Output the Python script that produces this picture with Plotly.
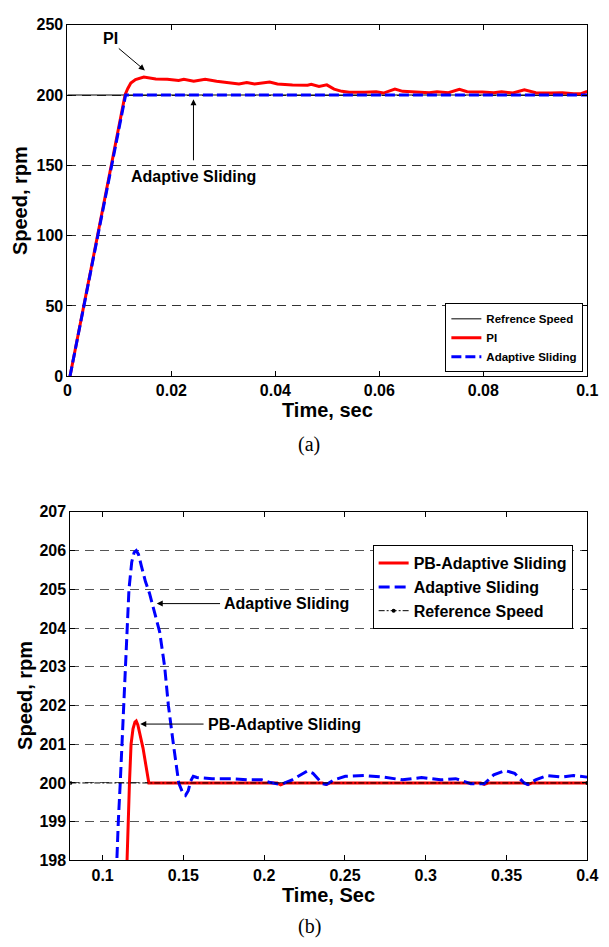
import plotly.graph_objects as go

W, H = 609, 947

# ---------------- data (a) ----------------
t_ref_a = [0.0, 0.1]
ref_a = [200, 200]

t_pi = [0.0005, 0.0111, 0.0116, 0.0122, 0.0131, 0.0147, 0.0170, 0.0192, 0.0214, 0.0224,
        0.0243, 0.0265, 0.0287, 0.0316, 0.0330, 0.0345, 0.0360, 0.0389, 0.0404, 0.0433,
        0.0462, 0.0469, 0.0484, 0.0499, 0.0513, 0.0528, 0.0542, 0.0572, 0.0594, 0.0608,
        0.0630, 0.0645, 0.0667, 0.0696, 0.0711, 0.0733, 0.0754, 0.0769, 0.0798, 0.0820,
        0.0835, 0.0857, 0.0879, 0.0901, 0.0930, 0.0952, 0.0974, 0.0988, 0.1000]
pi = [0, 200.2, 204.5, 208.5, 211.0, 212.8, 211.4, 211.2, 210.3, 211.2,
      209.8, 211.2, 209.8, 208.4, 207.9, 208.9, 207.9, 209.3, 207.9, 207.2,
      207.0, 207.7, 206.1, 207.2, 204.2, 202.6, 201.9, 201.9, 202.3, 201.4,
      204.2, 202.6, 202.1, 201.6, 202.3, 201.6, 204.0, 202.3, 202.1, 201.6,
      202.3, 201.4, 203.7, 201.6, 201.4, 201.6, 200.9, 200.9, 202.6]

t_as_a = [0.0005, 0.0112, 0.1]
as_a = [0, 200, 200]

# ---------------- data (b) ----------------
t_ref_b = [0.08, 0.4]
ref_b = [200, 200]

t_as_b = [0.1070, 0.1085, 0.1097, 0.1109, 0.1119, 0.1129, 0.1139, 0.1150, 0.1163, 0.1180,
          0.1195, 0.1208, 0.1222, 0.1240, 0.1265, 0.1290, 0.1320, 0.1353, 0.1384, 0.1407,
          0.1438, 0.1471, 0.1495, 0.1513, 0.1530, 0.1545, 0.1561, 0.1584, 0.1678, 0.1796,
          0.1914, 0.1985, 0.2031, 0.2102, 0.2173, 0.2267, 0.2302, 0.2361, 0.2385, 0.2432,
          0.2502, 0.2620, 0.2738, 0.2856, 0.2974, 0.3091, 0.3186, 0.3279, 0.3362, 0.3421,
          0.3491, 0.3550, 0.3609, 0.3633, 0.3680, 0.3751, 0.3845, 0.3915, 0.4000]
as_b = [196.0, 198.0, 199.0, 200.0, 201.0, 202.0, 203.0, 204.0, 205.0, 205.7,
        205.95, 206.0, 205.9, 205.6, 205.2, 204.9, 204.4, 203.9, 203.0, 202.0,
        201.0, 200.0, 199.75, 199.68, 199.8, 200.05, 200.17, 200.14, 200.11, 200.11,
        200.08, 200.08, 200.02, 199.96, 200.08, 200.31, 200.25, 199.98, 199.96, 200.08,
        200.17, 200.19, 200.15, 200.08, 200.14, 200.08, 200.11, 199.98, 199.98, 200.21,
        200.32, 200.25, 200.0, 199.96, 200.08, 200.19, 200.15, 200.19, 200.15]

t_pb = [0.1140, 0.1150, 0.1158, 0.1166, 0.1176, 0.1188, 0.1200, 0.1208, 0.1218, 0.1232,
        0.1250, 0.1268, 0.1286, 0.2080, 0.2102, 0.2130, 0.2360, 0.2385, 0.2410, 0.3340,
        0.3362, 0.3390, 0.3610, 0.3633, 0.3660, 0.4000]
pb = [196.5, 198.0, 199.0, 200.0, 201.0, 201.4, 201.57, 201.6, 201.5, 201.25,
      200.9, 200.45, 200.0, 200.0, 199.95, 200.0, 200.0, 199.96, 200.0, 200.0,
      199.96, 200.0, 200.0, 199.96, 200.0, 200.0]

xticks_a = [0, 0.02, 0.04, 0.06, 0.08, 0.1]
xticklabels_a = ["0", "0.02", "0.04", "0.06", "0.08", "0.1"]
yticks_a = [0, 50, 100, 150, 200, 250]
xticks_b = [0.1, 0.15, 0.2, 0.25, 0.3, 0.35, 0.4]
xticklabels_b = ["0.1", "0.15", "0.2", "0.25", "0.3", "0.35", "0.4"]
yticks_b = [198, 199, 200, 201, 202, 203, 204, 205, 206, 207]

# ---------------- helpers ----------------
def px(x):
    return x / W

def py(y):
    return (H - y) / H

SANS = "Arial, Liberation Sans, sans-serif"
SERIF = "Times New Roman, Liberation Serif, serif"
RED = "#ff0000"
BLUE = "#0000ff"

fig = go.Figure()

# (a)
fig.add_trace(go.Scatter(x=t_ref_a, y=ref_a, mode="lines", name="Refrence Speed",
                         line=dict(color="black", width=1), xaxis="x", yaxis="y",
                         legend="legend"))
fig.add_trace(go.Scatter(x=t_pi, y=pi, mode="lines", name="PI",
                         line=dict(color=RED, width=3), xaxis="x", yaxis="y",
                         legend="legend"))
fig.add_trace(go.Scatter(x=t_as_a, y=as_a, mode="lines", name="Adaptive Sliding",
                         line=dict(color=BLUE, width=3, dash="10px,4px"), xaxis="x", yaxis="y",
                         legend="legend"))

# (b)
fig.add_trace(go.Scatter(x=t_pb, y=pb, mode="lines", name="PB-Adaptive Sliding",
                         line=dict(color=RED, width=3), xaxis="x2", yaxis="y2",
                         legend="legend2"))
fig.add_trace(go.Scatter(x=t_as_b, y=as_b, mode="lines", name="Adaptive Sliding",
                         line=dict(color=BLUE, width=3, dash="11px,5px"), xaxis="x2", yaxis="y2",
                         legend="legend2"))
fig.add_trace(go.Scatter(x=t_ref_b, y=ref_b, mode="lines+markers", name="Reference Speed",
                         line=dict(color="black", width=1, dash="6px,2px,2px,2px"),
                         marker=dict(color="black", size=4), xaxis="x2", yaxis="y2",
                         legend="legend2"))

tickfont = dict(family=SANS, size=16, color="black", weight="bold")
common_ax = dict(showline=True, linecolor="black", linewidth=1, mirror="ticks",
                 ticks="inside", ticklen=5, tickcolor="black", tickwidth=1,
                 tickfont=tickfont, zeroline=False, ticklabeloverflow="allow")

fig.update_layout(
    width=W, height=H,
    margin=dict(l=0, r=0, t=0, b=0),
    paper_bgcolor="white", plot_bgcolor="white",
    showlegend=True,
    xaxis=dict(domain=[px(65), px(598)], anchor="y", range=[0, 0.1],
               tickmode="array", tickvals=xticks_a, ticktext=xticklabels_a,
               showgrid=False, **common_ax),
    yaxis=dict(domain=[py(375), py(17)], anchor="x", range=[0, 250],
               tickvals=yticks_a, showgrid=True, gridcolor="#333333", gridwidth=1,
               griddash="9px,6px", **common_ax),
    xaxis2=dict(domain=[px(68), px(598)], anchor="y2", range=[0.08, 0.4],
                tickmode="array", tickvals=xticks_b, ticktext=xticklabels_b,
                showgrid=False, **common_ax),
    yaxis2=dict(domain=[py(868), py(513)], anchor="x2", range=[198, 207],
                tickvals=yticks_b, showgrid=True, gridcolor="#555555", gridwidth=1,
                griddash="9px,6px", **common_ax),
    legend=dict(x=px(594), y=py(371), xanchor="right", yanchor="bottom",
                bgcolor="white", bordercolor="black", borderwidth=1,
                font=dict(family=SANS, size=11.5, color="black", weight="bold"),
                tracegroupgap=0, itemwidth=30),
    legend2=dict(x=px(583), y=py(547), xanchor="right", yanchor="top",
                 bgcolor="white", bordercolor="black", borderwidth=1,
                 font=dict(family=SANS, size=16, color="black", weight="bold"),
                 tracegroupgap=0, itemwidth=30),
)

annots = []
txtfont = dict(family=SANS, size=16, color="black", weight="bold")

# axis titles
annots.append(dict(text="Time, sec", x=px(331.5), y=py(409), xref="paper", yref="paper",
                   showarrow=False, xanchor="center", yanchor="middle",
                   font=dict(family=SANS, size=20, color="black", weight="bold")))
annots.append(dict(text="Speed, rpm", x=px(17), y=py(196), xref="paper", yref="paper",
                   showarrow=False, xanchor="center", yanchor="middle", textangle=-90,
                   font=dict(family=SANS, size=20, color="black", weight="bold")))
annots.append(dict(text="Time, Sec", x=px(333), y=py(903), xref="paper", yref="paper",
                   showarrow=False, xanchor="center", yanchor="middle",
                   font=dict(family=SANS, size=20, color="black", weight="bold")))
annots.append(dict(text="Speed, rpm", x=px(22), y=py(700), xref="paper", yref="paper",
                   showarrow=False, xanchor="center", yanchor="middle", textangle=-90,
                   font=dict(family=SANS, size=20, color="black", weight="bold")))
annots.append(dict(text="(a)", x=px(313), y=py(444), xref="paper", yref="paper",
                   showarrow=False, xanchor="center", yanchor="middle",
                   font=dict(family=SERIF, size=20, color="black")))
annots.append(dict(text="(b)", x=px(313), y=py(935), xref="paper", yref="paper",
                   showarrow=False, xanchor="center", yanchor="middle",
                   font=dict(family=SERIF, size=20, color="black")))

# (a) annotations
annots.append(dict(text="PI", x=0.0082, y=240, xref="x", yref="y", showarrow=False,
                   font=txtfont))
annots.append(dict(text="", x=0.0149, y=217.5, ax=0.0096, ay=234, xref="x", yref="y",
                   axref="x", ayref="y", showarrow=True, arrowhead=2, arrowsize=1.2,
                   arrowwidth=1, arrowcolor="black"))
annots.append(dict(text="Adaptive Sliding", x=0.02425, y=142, xref="x", yref="y",
                   showarrow=False, font=txtfont))
annots.append(dict(text="", x=0.02425, y=197, ax=0.02425, ay=152.5, xref="x", yref="y",
                   axref="x", ayref="y", showarrow=True, arrowhead=2, arrowsize=1.2,
                   arrowwidth=1, arrowcolor="black"))

# (b) annotations
annots.append(dict(text="Adaptive Sliding", x=0.2137, y=204.63, xref="x2", yref="y2",
                   showarrow=False, font=txtfont))
annots.append(dict(text="", x=0.1335, y=204.63, ax=0.1736, ay=204.63, xref="x2", yref="y2",
                   axref="x2", ayref="y2", showarrow=True, arrowhead=2, arrowsize=1.2,
                   arrowwidth=1, arrowcolor="black"))
annots.append(dict(text="PB-Adaptive Sliding", x=0.2125, y=201.5, xref="x2", yref="y2",
                   showarrow=False, font=txtfont))
annots.append(dict(text="", x=0.1233, y=201.52, ax=0.1634, ay=201.52, xref="x2", yref="y2",
                   axref="x2", ayref="y2", showarrow=True, arrowhead=2, arrowsize=1.2,
                   arrowwidth=1, arrowcolor="black"))

fig.update_layout(annotations=annots)

fig.write_html("out.html")
